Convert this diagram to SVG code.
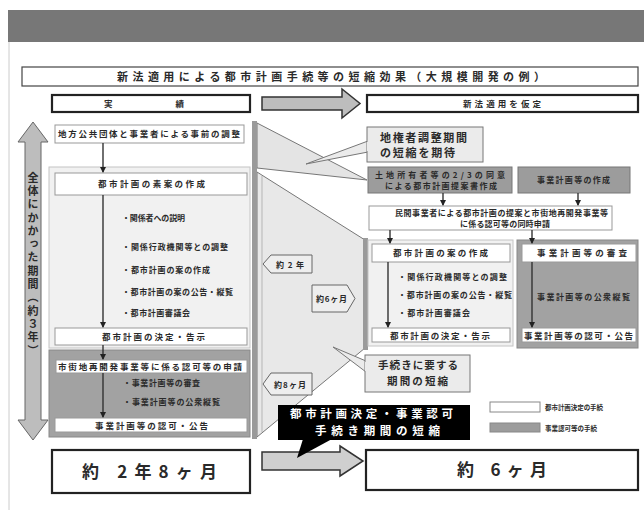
<svg xmlns="http://www.w3.org/2000/svg" width="644" height="510" viewBox="0 0 644 510">
<defs>
<style>
text{font-family:"Noto Sans CJK JP","Noto Sans",sans-serif;font-weight:bold;fill:#2a2a2a}
.s{font-size:8px}
.m{font-size:8.5px}
.l{font-size:11px}
.big{font-size:17px}
.box{fill:#fff;stroke:#999;stroke-width:1}
.gbox{fill:#9c9c9c;stroke:#777;stroke-width:1}
.hdr{fill:#fff;stroke:#222;stroke-width:2.2}
.call{fill:#ebebeb;stroke:#777;stroke-width:1}
.tag{fill:#eeeeee;stroke:#666;stroke-width:1}
.con{stroke:#333;stroke-width:1.4;fill:none;marker-end:url(#ah)}
</style>
<marker id="ah" markerWidth="6" markerHeight="6" refX="5" refY="3" orient="auto" markerUnits="userSpaceOnUse">
<path d="M0,0 L6,3 L0,6 Z" fill="#222"/>
</marker>
</defs>
<rect width="644" height="510" fill="#fff"/>
<rect x="8" y="10" width="636" height="32" fill="#777"/>
<line x1="9" y1="42" x2="9" y2="510" stroke="#ccc" stroke-width="1"/>

<g id="title">
<rect x="22" y="67" width="616" height="19" fill="#fff" stroke="#444" stroke-width="1.2"/>
<text x="117" y="81" class="l" textLength="428">新法適用による都市計画手続等の短縮効果（大規模開発の例）</text>
</g>

<g id="header-left">
<rect x="52" y="95" width="198" height="17" class="hdr"/>
<text x="104" y="107" class="m" textLength="80" lengthAdjust="spacing">実　　　　績</text>
</g>
<g id="header-arrow">
<path d="M262,97 H342 V89 L360,103.5 L342,118 V110 H262 Z" fill="#bdbdbd" stroke="#333" stroke-width="1.5"/>
</g>
<g id="header-right">
<rect x="367" y="95" width="271" height="17" class="hdr"/>
<text x="463" y="107" class="m" textLength="78">新法適用を仮定</text>
</g>

<g id="total-period">
<path d="M33,122 L48,142 H41 V420 H48 L33,440 L18,420 H25 V142 H18 Z" fill="#bdbdbd" stroke="#666" stroke-width="1"/>
<text x="33" y="172" class="l" style="writing-mode:vertical-rl;letter-spacing:2.3px" text-anchor="start">全体にかかった期間（約３年）</text>
</g>

<g id="shortening-shape">
<polygon points="257,123 257,168 367,180" fill="#e4e4e4" stroke="#777" stroke-width="1"/>
<polygon points="257,172 365,240 365,348 257,437" fill="#e8e8e8" stroke="#777" stroke-width="1"/>
<line x1="262" y1="176" x2="262" y2="432" stroke="#b5b5b5" stroke-width="1"/>
<rect x="252" y="121" width="5" height="318" fill="#9a9a9a"/>
<rect x="363" y="238" width="5" height="112" fill="#9a9a9a"/>
</g>

<g id="left-panels">
<rect x="49" y="167" width="201" height="181" fill="#f1f1f1" stroke="#c4c4c4" stroke-width="1"/>
<rect x="49" y="350" width="201" height="87" fill="#a2a2a2" stroke="#888" stroke-width="1"/>
</g>

<g id="l-prior">
<rect x="55" y="125" width="189" height="18" class="box"/>
<text x="58" y="137" class="m" textLength="182">地方公共団体と事業者による事前の調整</text>
</g>
<g id="l-draft">
<rect x="55" y="173" width="192" height="22" class="box"/>
<text x="98" y="187" class="m" textLength="107">都市計画の素案の作成</text>
</g>
<g id="l-steps">
<text x="122" y="221" class="s" textLength="63">・関係者への説明</text>
<text x="122" y="250" class="s" textLength="106">・関係行政機関等との調整</text>
<text x="122" y="273" class="s" textLength="88">・都市計画の案の作成</text>
<text x="122" y="295" class="s" textLength="111">・都市計画の案の公告・縦覧</text>
<text x="122" y="316" class="s" textLength="68">・都市計画審議会</text>
</g>
<g id="l-decision">
<rect x="55" y="328" width="192" height="17" class="box"/>
<text x="102" y="340" class="m" textLength="103">都市計画の決定・告示</text>
</g>
<g id="l-apply">
<rect x="56" y="360" width="191" height="13" class="box" stroke="#ccc"/>
<text x="58" y="370" class="m" textLength="184">市街地再開発事業等に係る認可等の申請</text>
</g>
<g id="l-review">
<text x="123" y="386" class="s" textLength="77">・事業計画等の審査</text>
<text x="123" y="405" class="s" textLength="97">・事業計画等の公衆縦覧</text>
</g>
<g id="l-approval">
<rect x="55" y="418" width="192" height="14" class="box" stroke="#ccc"/>
<text x="95" y="428.5" class="m" textLength="113">事業計画等の認可・公告</text>
</g>

<g id="callout-landowner">
<polygon points="368,141 306,164 368,152" class="call"/>
<rect x="367" y="127" width="116" height="35" class="call"/>
<line x1="368" y1="142" x2="368" y2="151" stroke="#ebebeb" stroke-width="2"/>
<text x="380" y="142" class="l" textLength="87">地権者調整期間</text>
<text x="380" y="157" class="l" textLength="75">の短縮を期待</text>
</g>

<g id="r-proposal">
<rect x="368" y="167" width="144" height="26" class="gbox"/>
<text x="375" y="178" class="s" textLength="130">土地所有者等の2/3の同意</text>
<text x="385" y="189" class="s" textLength="112">による都市計画提案書作成</text>
</g>
<g id="r-plan">
<rect x="518" y="167" width="112" height="26" class="gbox"/>
<text x="537" y="183" class="s" textLength="73">事業計画等の作成</text>
</g>
<g id="r-joint">
<rect x="369" y="206" width="243" height="24" class="box" stroke="#666"/>
<text x="395" y="215.5" class="s" textLength="213">民間事業者による都市計画の提案と市街地再開発事業等</text>
<text x="460" y="226.5" class="s" textLength="90">に係る認可等の同時申請</text>
</g>

<g id="right-panels">
<rect x="368" y="240" width="145" height="106" fill="#f1f1f1" stroke="#c4c4c4" stroke-width="1"/>
<rect x="517" y="240" width="121" height="108" fill="#a2a2a2" stroke="#888" stroke-width="1"/>
</g>
<g id="r-draft">
<rect x="372" y="244" width="138" height="18" class="box"/>
<text x="393" y="256" class="m" textLength="95">都市計画の案の作成</text>
</g>
<g id="r-steps">
<text x="398" y="280" class="s" textLength="109">・関係行政機関等との調整</text>
<text x="398" y="298" class="s" textLength="114">・都市計画の案の公告・縦覧</text>
<text x="398" y="316" class="s" textLength="72">・都市計画審議会</text>
</g>
<g id="r-decision">
<rect x="372" y="328" width="138" height="14" class="box"/>
<text x="390" y="338.5" class="m" textLength="100">都市計画の決定・告示</text>
</g>
<g id="r-review">
<rect x="522" y="244" width="114" height="18" class="box" stroke="#ccc"/>
<text x="537" y="256" class="m" textLength="90">事業計画等の審査</text>
<text x="537" y="300" class="s" textLength="93">事業計画等の公衆縦覧</text>
</g>
<g id="r-approval">
<rect x="522" y="328" width="114" height="14" class="box" stroke="#ccc"/>
<text x="524" y="338.5" class="m" textLength="109">事業計画等の認可・公告</text>
</g>

<g id="tag-2y">
<polygon points="263,264 271,255 312,255 312,273 271,273" class="tag"/>
<text x="276" y="267.5" class="s" textLength="28">約2年</text>
</g>
<g id="tag-6m">
<polygon points="312,285 347,285 355,298.5 347,312 312,312" class="tag"/>
<text x="316" y="301.5" class="s" textLength="31">約6ヶ月</text>
</g>
<g id="tag-8m">
<polygon points="263,384 271,373 312,373 312,395 271,395" class="tag"/>
<text x="274" y="387.5" class="s" textLength="32">約8ヶ月</text>
</g>

<g id="callout-procedure">
<polygon points="366,361 333,347 366,372" class="call"/>
<rect x="365" y="355" width="105" height="37" class="call"/>
<line x1="366" y1="362" x2="366" y2="371" stroke="#ebebeb" stroke-width="2"/>
<text x="378" y="369" style="font-size:10.5px" textLength="80">手続きに要する</text>
<text x="387" y="385" style="font-size:10.5px" textLength="61">期間の短縮</text>
</g>

<g id="legend">
<rect x="490" y="402" width="50" height="10" fill="#fff" stroke="#888" stroke-width="1"/>
<text x="545" y="410" style="font-size:6.5px" textLength="58">都市計画決定の手続</text>
<rect x="490" y="423" width="50" height="9" fill="#9c9c9c" stroke="#888" stroke-width="1"/>
<text x="545" y="430.5" style="font-size:6.5px" textLength="52">事業認可等の手続</text>
</g>

<g id="bottom-arrow">
<path d="M262,452 H340 V446 L363,461 L340,476 V470 H262 Z" fill="#cfcfcf" stroke="#333" stroke-width="1.5"/>
</g>
<g id="banner">
<rect x="278" y="405" width="192" height="35" fill="#000"/>
<polygon points="303,439 332,439 297,458" fill="#000"/>
<text x="290" y="418" style="fill:#fff;font-size:11.5px" textLength="163">都市計画決定・事業認可</text>
<text x="315" y="435" style="fill:#fff;font-size:11.5px" textLength="125">手続き期間の短縮</text>
</g>

<g id="total-actual">
<rect x="52" y="450" width="198" height="43" fill="#fff" stroke="#222" stroke-width="2.2"/>
<text x="82" y="478" class="big" textLength="135">約 2年8ヶ月</text>
</g>
<g id="total-new">
<rect x="366" y="450" width="272" height="40" fill="#fff" stroke="#222" stroke-width="2.2"/>
<text x="457" y="476" class="big" textLength="90">約 6ヶ月</text>
</g>

<g id="connectors">
<line x1="103" y1="143" x2="103" y2="172" class="con"/>
<line x1="103" y1="195" x2="103" y2="327" class="con"/>
<line x1="103" y1="345" x2="103" y2="359" class="con"/>
<line x1="103" y1="373" x2="103" y2="417" class="con"/>
<line x1="443" y1="193" x2="443" y2="205" class="con"/>
<line x1="578" y1="193" x2="578" y2="205" class="con"/>
<line x1="390" y1="230" x2="390" y2="243" class="con"/>
<line x1="532" y1="230" x2="532" y2="243" class="con"/>
<line x1="388" y1="262" x2="388" y2="327" class="con"/>
<line x1="532" y1="262" x2="532" y2="327" class="con"/>
</g>
</svg>
